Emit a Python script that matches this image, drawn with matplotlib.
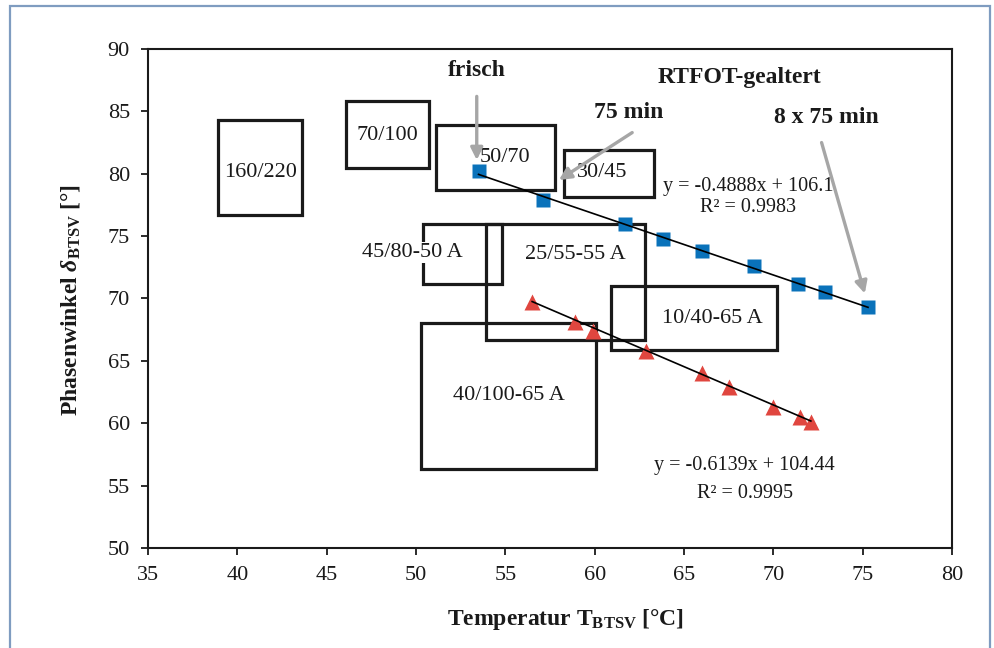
import matplotlib
matplotlib.use("Agg")
import matplotlib.pyplot as plt
from matplotlib.patches import Rectangle
import numpy as np

plt.rcParams['font.family'] = ['Liberation Serif', 'DejaVu Serif']
plt.rcParams['mathtext.fontset'] = 'custom'
plt.rcParams['mathtext.rm'] = 'Liberation Serif'
plt.rcParams['mathtext.it'] = 'Liberation Serif:italic'
plt.rcParams['mathtext.bf'] = 'Liberation Serif:bold'
plt.rcParams['mathtext.bfit'] = 'Liberation Serif:italic:bold'

# Data: fresh / aged binder (blue squares)
blue_x = [53.5, 57.1, 61.7, 63.8, 66.0, 68.9, 71.4, 72.9, 75.3]
blue_y = [80.2, 77.9, 76.0, 74.8, 73.8, 72.6, 71.2, 70.5, 69.3]
# red triangles
red_x = [56.5, 58.9, 59.9, 62.9, 66.0, 67.5, 70.0, 71.5, 72.1]
red_y = [69.7, 68.1, 67.4, 65.8, 64.0, 62.9, 61.3, 60.5, 60.1]

# Trendline coefficients (as shown)
blue_fit = [-0.4888, 106.1]
red_fit = [-0.6139, 104.44]

# Binder grade boxes: label, x0, x1, y0, y1, label x, label y
box_labels = ['160/220', '70/100', '50/70', '30/45', '45/80-50 A',
              '25/55-55 A', '10/40-65 A', '40/100-65 A']
box_x0 = [38.9, 46.1, 51.1, 58.3, 50.4, 53.9, 60.9, 50.3]
box_x1 = [43.6, 50.7, 57.8, 63.3, 54.8, 62.8, 70.2, 60.1]
box_y0 = [76.7, 80.5, 78.7, 78.1, 71.2, 66.7, 65.9, 56.3]
box_y1 = [84.3, 85.8, 83.9, 81.9, 76.0, 76.0, 71.0, 68.0]
label_x = [41.3, 48.4, 55.0, 60.4, 49.8, 58.9, 66.6, 55.2]
label_y = [80.1, 83.1, 81.3, 80.1, 73.7, 73.5, 68.4, 62.2]

fig = plt.figure(figsize=(9.94, 6.48), dpi=100)
ax = fig.add_axes([148/994, 1-548/648, (952-148)/994, (548-49)/648])

# boxes
for x0, x1, y0, y1 in zip(box_x0, box_x1, box_y0, box_y1):
    ax.add_patch(Rectangle((x0, y0), x1-x0, y1-y0, fill=False,
                           edgecolor='#1a1a1a', lw=2.3, zorder=2))
for lab, lx, ly in zip(box_labels, label_x, label_y):
    bbox = None
    if lab == '45/80-50 A':
        bbox = dict(facecolor='white', edgecolor='none', pad=1)
    ax.text(lx, ly, lab, ha='center', va='center', fontsize=16,
            color='#1a1a1a', zorder=3, bbox=bbox)

# markers
ax.plot(blue_x, blue_y, ls='none', marker='s', ms=10.5, color='#0a72ba',
        mec='none', zorder=4)
ax.plot(red_x, red_y, ls='none', marker='^', ms=12, color='#e0463f',
        mec='none', zorder=4)

# trend lines
bx = np.array([min(blue_x), max(blue_x)])
ax.plot(bx, blue_fit[0]*bx + blue_fit[1], color='black', lw=1.2, zorder=5)
rx = np.array([min(red_x), max(red_x)])
ax.plot(rx, red_fit[0]*rx + red_fit[1], color='black', lw=1.2, zorder=5)

ax.text(68.6, 79.0, 'y = -0.4888x + 106.1', ha='center', va='center',
        fontsize=14.5, color='#1a1a1a', zorder=6)
ax.text(68.6, 77.3, 'R² = 0.9983', ha='center', va='center',
        fontsize=14.5, color='#1a1a1a', zorder=6)
ax.text(68.4, 56.6, 'y = -0.6139x + 104.44', ha='center', va='center',
        fontsize=14.5, color='#1a1a1a', zorder=6)
ax.text(68.4, 54.4, 'R² = 0.9995', ha='center', va='center',
        fontsize=14.5, color='#1a1a1a', zorder=6)

# annotations
arrow = dict(arrowstyle='-|>', color='#a6a6a6', lw=2.4, mutation_scale=18,
             shrinkA=0, shrinkB=0)
ax.text(53.4, 88.3, 'frisch', ha='center', va='center', fontsize=17,
        fontweight='bold', color='#1a1a1a')
ax.annotate('', xy=(53.4, 81.1), xytext=(53.4, 86.2), arrowprops=arrow, zorder=7)
ax.text(68.1, 87.7, 'RTFOT-gealtert', ha='center', va='center', fontsize=17,
        fontweight='bold', color='#1a1a1a')
ax.text(61.9, 84.9, '75 min', ha='center', va='center', fontsize=17,
        fontweight='bold', color='#1a1a1a')
ax.annotate('', xy=(58.0, 79.5), xytext=(62.1, 83.3), arrowprops=arrow, zorder=7)
ax.text(72.95, 84.5, '8 x 75 min', ha='center', va='center', fontsize=17,
        fontweight='bold', color='#1a1a1a')
ax.annotate('', xy=(75.12, 70.4), xytext=(72.7, 82.5), arrowprops=arrow, zorder=7)

# axes
ax.set_xlim(35, 80)
ax.set_ylim(50, 90)
ax.set_xticks(np.arange(35, 81, 5))
ax.set_yticks(np.arange(50, 91, 5))
ax.tick_params(direction='out', length=5, width=1.3, labelsize=16,
               colors='#1a1a1a', pad=8)
for s in ax.spines.values():
    s.set_linewidth(1.5)
    s.set_color('#1a1a1a')

xl = ax.set_xlabel(r'$\mathbf{Temperatur\ T_{BTSV}\ [°C]}$', fontsize=17,
                   va='center', color='#1a1a1a')
ax.xaxis.set_label_coords((565-148)/804, (548-620)/499)
yl = ax.set_ylabel(r'$\mathbf{Phasenwinkel}\ \mathbfit{\delta}_{\mathbf{BTSV}}\ \mathbf{[°]}$',
                   fontsize=17, va='center', color='#1a1a1a')
ax.yaxis.set_label_coords((70-148)/804, (548-300)/499)

# outer figure border
fig.patches.append(Rectangle((10/994, -0.05), 980/994, 1.05 - 6/648,
                             transform=fig.transFigure, fill=False,
                             edgecolor='#7f9cc0', lw=1.6))

fig.savefig('out.png', dpi=100)
